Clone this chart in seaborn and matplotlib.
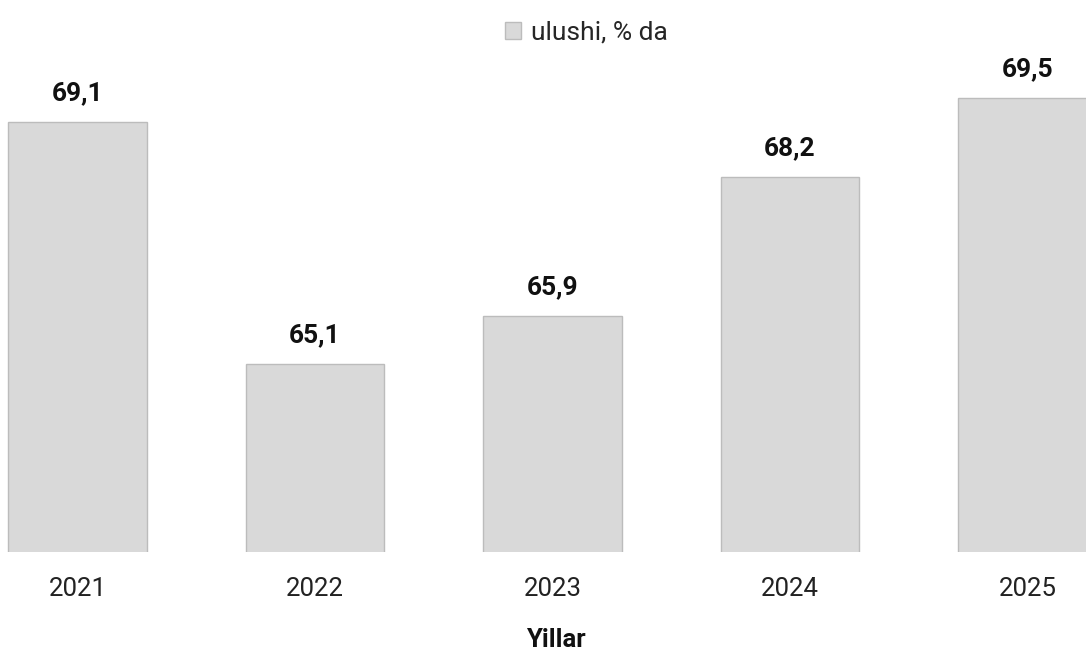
import matplotlib
matplotlib.use("Agg")
import matplotlib.pyplot as plt
import seaborn as sns
import pandas as pd

years = ["2021", "2022", "2023", "2024", "2025"]
values = [69.1, 65.1, 65.9, 68.2, 69.5]
value_labels = ["69,1", "65,1", "65,9", "68,2", "69,5"]
series_name = "ulushi, % da"
x_title = "Yillar"

sns.set_theme(style="white")
plt.rcParams['font.family'] = ['Roboto', 'DejaVu Sans']

fig = plt.figure(figsize=(10.86, 6.57), dpi=100)
ax = fig.add_axes([0.0, 0.1603, 1.0, 0.7367])

df = pd.DataFrame({"year": years, "value": values})
sns.barplot(data=df, x="year", y="value", color="#d9d9d9", saturation=1,
            edgecolor="#bcbcbc", linewidth=1.0, width=0.585, ax=ax,
            label=series_name)

ax.set_ylim(62, 70)
ax.set_xlim(-0.3263, 4.2463)

ax.bar_label(ax.containers[0], labels=value_labels, padding=12,
             fontsize=19, fontweight="bold", color="#111111")

for s in ax.spines.values():
    s.set_visible(False)
ax.set_yticks([])
ax.set_ylabel("")
ax.tick_params(axis="x", length=0, pad=18, labelsize=18.5, labelcolor="#222222")
ax.set_xlabel(x_title, fontsize=18.5, fontweight="bold", color="#111111")
ax.xaxis.set_label_coords(0.512, -0.158)

leg = ax.legend(loc="upper center", bbox_to_anchor=(0.54, 1.0 / 0.7367 * (1 - 0.1603) - 0.005),
                bbox_transform=ax.transAxes,
                frameon=False, fontsize=19, handlelength=0.6, handleheight=0.6,
                handletextpad=0.35, borderaxespad=0.3)

fig.savefig("out.png", dpi=100, facecolor="white")
